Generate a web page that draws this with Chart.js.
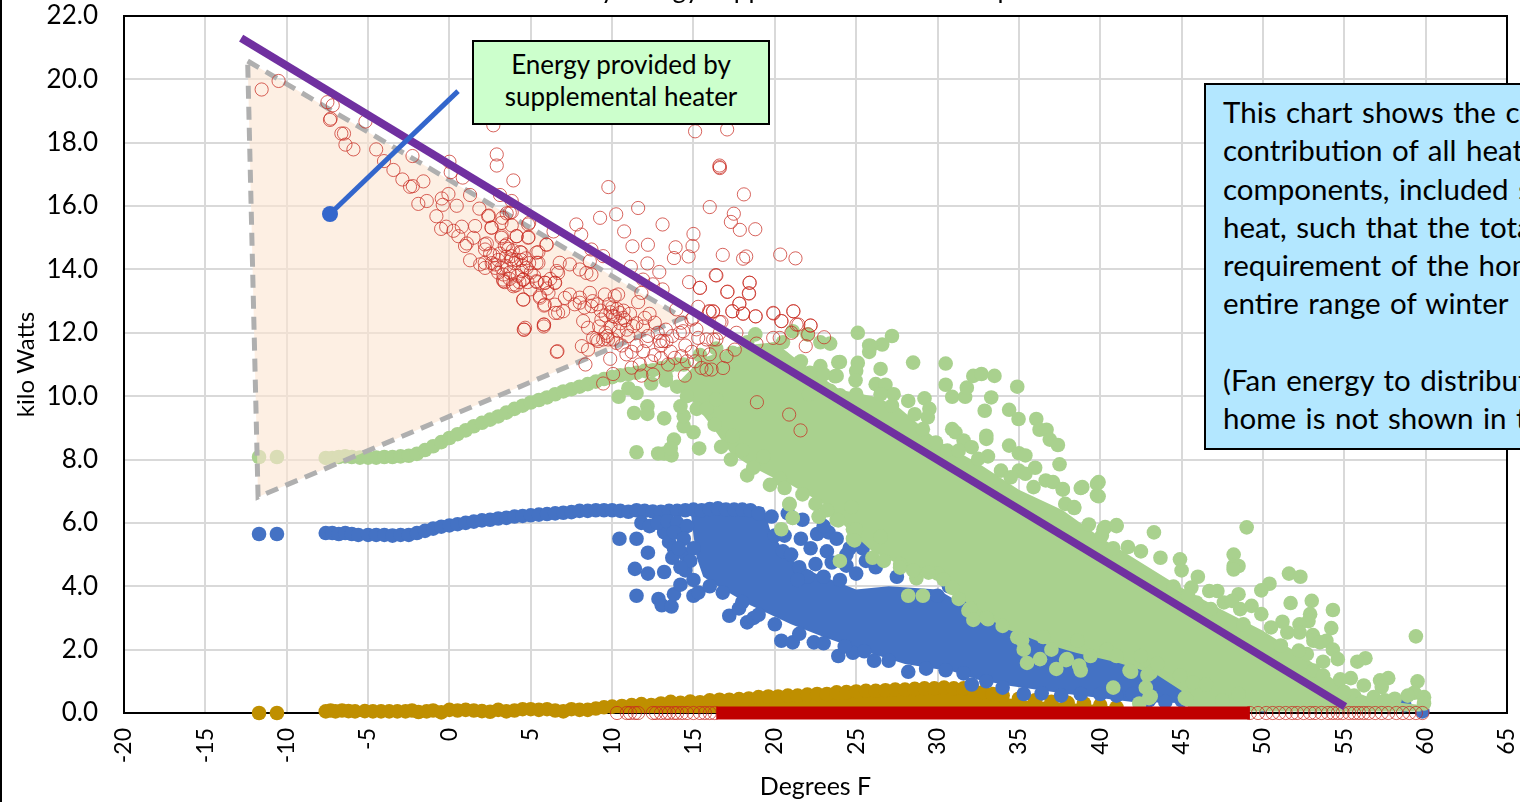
<!DOCTYPE html>
<html lang="en">
<head>
<meta charset="UTF-8">
<title>Hourly Energy Supplied</title>
<script src="https://cdn.jsdelivr.net/npm/chart.js"></script>
<style>
    html, body { margin: 0; padding: 0; background: #fff; overflow: hidden; }
    #wrap { position: relative; width: 1520px; height: 802px; overflow: hidden; font-family: Lato, sans-serif; color: #000; }
    #wrap canvas { position: absolute; left: 0; top: 0; }
    #frame { position: absolute; left: 0; top: 0; width: 2px; height: 802px; background: #000; }
    #title { position: absolute; left: 124px; width: 1383px; top: -27px; line-height: 30px; font-size: 26px; text-align: center; white-space: nowrap; }
    .note { position: absolute; box-sizing: border-box; border: 2px solid #000; }
    #heaterNote { left: 472px; top: 40px; width: 298px; height: 85px; background: #CCFFCC; text-align: center; font-size: 26px; line-height: 32px; padding-top: 6px; }
    #infoNote { left: 1204px; top: 83px; width: 360px; height: 367px; background: #B3E7FF; font-size: 29.5px; word-spacing: 2px; line-height: 38.3px; padding: 8px 0 0 17px; white-space: nowrap; }
</style>
</head>
<body>
<div id="wrap">
    <canvas id="chart" width="1520" height="802"></canvas>
    <div id="frame"></div>
    <div id="title">Hourly Energy Supplied vs. Outdoor Temperature</div>
    <div id="heaterNote" class="note">Energy provided by<br>supplemental heater</div>
    <div id="infoNote" class="note">This chart shows the combined<br>contribution of all heat<br>components, included supplemental<br>heat, such that the total<br>requirement of the home<br>entire range of winter<br><br>(Fan energy to distribute<br>home is not shown in this</div>
</div>
<script>
// values, [deg F, kW]
const xTickStep = 5;
const yTickStep = 2;

const totalLine = [[-12.8,21.3],[55.05,0.2]];
const calloutLine = [[-7.34,15.75],[0.53,19.63]];
const supplementalWedge = [[-12.4,20.58],[14.36,12.47],[-11.76,6.82],[-12.4,20.58]];

const goldCore = [[10,0],[10,0.2],[15,0.3],[20,0.45],[25,0.6],[30,0.72],[31.5,0.75],[35,0.4],[40,0.25],[41.5,0.15],[41.5,0]];
const goldPoints = [[-11.7,0],[-10.6,0],[-7.6,0.05],[-7.3,0.08],[-7,0.05],[-6.6,0.08],[-6.2,0.06],[-5.8,0.05],[-5.2,0.06],[-4.7,0.05],[-4.2,0.05],[-3.7,0.05],[-3.2,0.05],[-2.7,0.05],[-2.3,0.08],[-1.9,0.03],[-1.4,0.05],[-1,0.08],[-0.5,0.02],[0,0.1],[0.5,0.08],[1,0.1],[1.5,0.08],[2,0.06],[2.5,0.04],[3,0.1],[3.5,0.05],[4,0.08],[4.5,0.12],[5,0.12],[5.5,0.1],[6,0.12],[6.5,0.08],[7,0.05],[7.5,0.12],[8,0.1],[8.5,0.1],[9,0.14],[9.5,0.18],[10,0.2],[10.6,0.22],[11.2,0.25],[11.8,0.28],[12.4,0.25],[13,0.3],[13.6,0.35],[14.2,0.32],[14.8,0.36],[15.4,0.34],[16,0.4],[16.6,0.42],[17.2,0.42],[17.8,0.44],[18.4,0.46],[19,0.5],[19.6,0.52],[20.2,0.52],[20.8,0.55],[21.4,0.55],[22,0.58],[22.6,0.6],[23.2,0.6],[23.8,0.65],[24.4,0.66],[25,0.68],[25.6,0.7],[26.2,0.7],[26.8,0.72],[27.4,0.74],[28,0.74],[28.6,0.76],[29.2,0.78],[29.8,0.78],[30.4,0.8],[31,0.78],[31.6,0.78],[32.2,0.72],[32.8,0.66],[33.4,0.6],[34,0.55],[35,0.45],[36,0.4],[37,0.35],[38,0.32],[39,0.3],[40,0.25],[41,0.18]];

const blueCore = [[14.8,6.5],[19.3,6.5],[19.7,5.8],[20.8,4.9],[22.5,4.4],[25,3.9],[27,4],[30,3.9],[33,3],[36,2.5],[40,2],[45,1.2],[46.5,0.3],[42,0.35],[38,0.6],[34.5,0.85],[32.5,1.05],[31,1.3],[28,1.55],[25.5,1.95],[23,2.4],[21,2.8],[18.5,3.4],[16.5,4],[15.6,4.3],[15.2,4.9],[15,5.6]];
const bluePoints = [[-11.7,5.65],[-10.6,5.65],[-7.6,5.68],[-7.2,5.68],[-6.8,5.65],[-6.4,5.68],[-6,5.65],[-5.6,5.62],[-5,5.62],[-4.5,5.62],[-4,5.62],[-3.5,5.6],[-3,5.62],[-2.5,5.62],[-2,5.68],[-1.5,5.75],[-1,5.82],[-0.5,5.88],[0,5.92],[0.5,5.96],[1,6],[1.5,6.04],[2,6.08],[2.5,6.1],[3,6.14],[3.5,6.16],[4,6.2],[4.5,6.22],[5,6.24],[5.5,6.26],[6,6.28],[6.5,6.3],[7,6.32],[7.5,6.34],[8,6.38],[8.5,6.38],[9,6.4],[9.5,6.4],[10,6.4],[10.5,6.38],[11,6.35],[11.5,6.4],[12,6.38],[12.5,6.36],[13,6.35],[13.5,6.38],[14,6.38],[14.5,6.4],[15,6.42],[15.5,6.4],[16,6.44],[16.5,6.46],[17,6.42],[17.5,6.42],[18,6.42],[18.5,6.4],[19,6.3],
[10.45,5.5],[11.5,5.5],[12.2,5.06],[11.4,4.55],[12.2,4.4],[13.2,4.45],[11.5,3.7],[12.85,3.6],[13.05,3.4],[13.65,3.36],[13.8,3.75],[15,3.7],[15.3,3.8],[14.2,4.05],[17.2,3.07],[18.3,2.86],[18.7,3],[17.8,3.3],[20.4,2.28],[21.1,2.23],[22.4,2.23],[23.9,1.8],[24.8,1.9],[26.1,1.65],[28.2,1.3],[30.5,1.35],[32.1,0.9],
[11.8,6],[12.3,5.9],[13.2,5.7],[13.5,5.4],[13.8,5.2],[14.2,5.7],[14.5,5],[14.5,4.5],[15,4.2],[16,4],[16.8,3.8],[18,3.5],[19,3.1],[20,2.8],[21.5,2.5],[23,2.2],[24.3,2.1],[25.5,1.95],[27,1.65],[29.3,1.4],[31.6,1.25],[33,1],[34,0.8],[35.3,0.6],[36.4,0.62],[37.6,0.55],[38.8,0.6],[40,0.6],[41,0.55],[42,0.6],[43,0.4],[44,0.35],[45,0.4],[46.5,0.3],[48,0.3],[50,0.25],[58.7,0.25],[59.8,0.05],
[12.8,6],[13.4,6.05],[14,6],[14.6,5.9],[13.8,5.7],[14.4,5.5],[15,5.2],[14.8,4.8],[14.2,4.6],[13.7,4.9],[14.1,5.2],
[19.8,6.2],[20,5.6],[20.5,5.1],[21.5,4.6],[20.8,6.3],[21.7,6.1],[22.6,5.65],[23.3,5.7],[23.8,5.5],[21.6,5.5],[22.2,5.2],[23.2,5.1],[23.5,4.75],[22.5,4.7],[24.4,5],[24.4,4.65],[25.6,4.8],[25.9,5.5],[26.2,4.6],[27.5,4.3],[28.4,3.5],[30,3.7],[30.7,4],[31.8,3.6],[20.6,5.6],[21,5],[22,4.3],[23,4.3],[24,4.2],[25,4.4],[21.4,4.2],[23,5.9],[24.6,5.2],[25.4,5.2]];

const greenCore = [[15.5,11.2],[18,11.6],[20,11.7],[22,10.9],[24,10.2],[26,10],[27.5,9.7],[30,8.6],[32.6,7.85],[35,7.05],[37.7,6.4],[40,5.55],[42.5,4.75],[45,3.95],[47.5,3.25],[50,2.6],[53,1.6],[55,0.8],[57,0.4],[59.7,0.25],[59.7,0.05],[45.5,0.05],[45,0.7],[43.5,1.2],[41,1.6],[38.5,1.9],[36.5,2.2],[34,2.7],[32,3.4],[30,4.2],[28,4.6],[26,5.1],[24.5,5.8],[23,6.6],[21,7.2],[20,7.4],[18.5,7.8],[17.3,8.2],[16.2,9],[15,9.8],[14,10.4]];
const greenPoints = [[-11.7,8.08],[-10.6,8.08],[-7.6,8.05],[-7.2,8.05],[-6.8,8.08],[-6.4,8.1],[-6,8.08],[-5.5,8.06],[-5,8.06],[-4.5,8.06],[-4,8.08],[-3.5,8.08],[-3,8.1],[-2.5,8.12],[-2,8.18],[-1.5,8.3],[-1,8.42],[-0.5,8.55],[0,8.68],[0.5,8.8],[1,8.92],[1.5,9.05],[2,9.16],[2.5,9.26],[3,9.36],[3.5,9.48],[4,9.6],[4.5,9.7],[5,9.8],[5.5,9.88],[6,9.96],[6.5,10.06],[7,10.15],[7.5,10.22],[8,10.3],[8.5,10.38],[9,10.46],[9.5,10.54],[10,10.6],[10.5,10.66],[11,10.7],[11.5,10.74],[12,10.8],[12.5,10.82],[13,10.88],[13.5,10.95],[14,11],
[10.4,9.98],[11.35,9.47],[12.17,9.68],[12.17,9.44],[13.2,9.3],[11.5,8.23],[12.83,8.19],[13.2,8.19],[13.65,8.13],[13.8,8.63],[13.6,8.35],[15.35,8.35],[16.7,8.4],[17.3,8],[18.3,7.5],[18.67,7.74],[15,8.86],[14.4,9.05],[14.4,9.37],[14.2,9.68],[11.5,10.1],[11,10.25],[12.4,10.4],[16.3,9.1],[17.4,8.74],[18,8.3],[19.3,8.1],[20.3,7.4],[20.6,7.1],[20.9,6.58],[21.1,6.16],[20.4,5.8],[22.7,6.2],[23.8,6.1],[24.8,5.8],[13.3,10.5],[14,10.3],[14.6,10],[15.2,9.6],[15.8,9.6],[16.4,9.9],[19.7,7.2],[21.7,6.9],[22.5,6.6],[23.2,6.4],
[18.8,11.95],[21.1,12.05],[22,11.95],[19.9,11.47],[22.8,11.7],[23.4,11.66],[25.1,12],[25.8,11.6],[26.6,11.63],[27.2,11.9],[23.9,11.07],[22.8,10.95],[23.7,10.63],[25.1,11.05],[26.5,10.86],[21.5,11.05],[22.15,10.74],[20.5,11.7],[18.3,11.7],[17.4,11.37],[16.4,11.5],[15.4,11.3],[14.4,11],[13.3,10.63],[20.5,11.2],[19,11.4],
[25.9,11.58],[25.8,11.4],[28.5,11.06],[30.5,11.03],[30.5,10.36],[30.9,9.98],[31.7,9.98],[31.8,10.27],[32.2,10.64],[32.7,10.7],[33.5,10.64],[34.9,10.3],[33.3,9.96],[32.9,9.54],[34.4,9.57],[34.98,9.28],[36.07,9.28],[36.27,8.94],[36.7,8.94],[36.9,8.63],[37.4,8.46],[37.5,7.85],[34.4,8.44],[35,8.2],[35.4,8.13],[33,8.75],[33,8.65],[30.9,8.96],[31.1,8.86],[31.6,8.6],[32.1,8.39],[33.1,8.1],[36,7.74],[35,7.65],[35.4,7.55],[36.65,7.34],[37.1,7.29],[37.7,7.07],[38.9,7.13],[39.9,7.29],[39.8,6.87],[35.9,7.13],[38.4,6.5],[37.85,6.6],[39.3,5.95],[40.3,5.87],[41,5.93],[40.1,5.6],
[24,11.08],[23,10.69],[23.8,10.64],[25,10.8],[24.96,10.5],[26.2,10.38],[26.8,10.36],[25,10.06],[24,10.03],[23.4,10.17],[22.1,10.06],[21.6,11.1],[28.2,9.85],[29.2,9.93],[29.5,9.6],[29.4,9.33],[27.3,10.06],[26.5,10.06],[28.6,9.43],[27.2,9.7],[29.1,8.96],[29.9,8.54],[30.6,8.28],[31.3,8.28],[32.5,8.02],[33.9,7.65],[34.5,7.44],
[24.7,6.5],[23.9,6.08],[24.8,5.5],[26.5,5.56],[28.7,4.25],[28.2,3.7],[29.1,3.7],[31.3,3.6],[32.4,3.06],[34,2.75],[24,4.8],[26,4.9],[25,5.8],[24.9,5.45],[20.9,6.6],[21.1,6.16],[22.7,6.2],[27.7,4.7],[30,4.4],[26.7,4.8],[27.7,4.59],[29.45,4.43],[30.37,4.22],[31.9,3.23],[33.1,2.96],[34.9,2.39],[28.5,4.5],[30.9,3.95],[32,3.3],
[37.7,7.05],[38.8,7.1],[39.8,7.23],[39.9,6.84],[38.4,6.47],[41,5.9],[40.2,5.8],[43.3,5.7],[49,5.86],[40.8,5.2],[41.7,5.24],[42.5,5.1],[43.7,4.9],[44.9,4.85],[45,4.5],[46,4.3],[48.2,5],[48.2,4.64],[48.5,4.64],[48.2,4.53],[51.6,4.4],[52.3,4.3],[50.4,4.08],[49.9,3.87],[46.7,3.85],[47.2,3.85],[48.5,3.75],[45.6,3.96],[44.5,3.99],[45.9,3.49],[45.4,3.7],[51.7,3.47],[53,3.54],[54.3,3.25],[52.9,3.12],[52.8,2.9],[54.2,2.68],[52.25,2.8],[52.25,2.54],[59.4,2.42],[47.6,3.49],[48.1,3.54],[48.6,3.28],[49.3,3.38],[49.9,3.12],[46.8,3.28],[51.2,2.88],[50.5,2.7],[48.8,2.8],[51.5,2.54],[53.07,2.46],[53.1,2.28],[53.9,2.28],[53.5,2.23],[54.3,2],[54.6,1.7],[56.3,1.73],[55.8,1.62],[53.7,1.62],[52.7,1.86],[52.2,1.97],[51.1,2.13],[53.1,1.34],[53.7,1.18],[54.75,1.06],[55.4,1.1],[56.2,0.87],[57.2,1.03],[57.7,1.1],[57.3,0.82],[59.5,1],[59.3,0.64],[59.9,0.5],[58.9,0.55],[58.1,0.45],[56.8,0.5],[55.6,0.55],[59.9,0.3],[55,0.66],[57.5,0.4],[56,0.3],
[37.95,1.7],[38.8,1.34],[38.7,1.5],[39.4,1.8],[40.8,0.8],[41.8,1.34],[42.8,0.8],[43.1,0.52],[42.4,0.3],[43.1,1.27],[44.9,1.18],[38.6,2.28],[40.4,2],[42.5,1.8],[45.2,0.48],[45.7,0.97],[35.3,2],[35.5,1.58],[36.3,1.7],[37.3,1.39],[37.9,1.67],[37,2],[35.2,2.3],[32.2,2.94],[41.9,1.3],[42.9,1.2],[43,0.47],[45.3,0.44],[46.5,0.9],[47.5,0.4],[48.5,0.6],[36.5,2.4],[33,3],[41,1.8],[43.5,1.55]];

const redPoints = [[-11.54,19.68],[-10.5,19.95],[-7.5,19.28],[-7.17,19.18],[-7.34,18.72],[-7.3,18.76],[-6.64,18.29],[-6.48,18.29],[-6.39,17.94],[-5.9,17.79],[-5.16,18.67],[-4.5,17.79],[-4.02,17.42],[-3.44,17.14],[-2.89,16.84],[-2.42,16.61],[-2.25,16.63],[-1.6,16.78],[-2.27,17.58],[0,17.4],[0.08,17.07],[0.82,16.9],[1.27,16.35],
[-0.47,16.24],[-0.06,16.38],[-0.41,16.04],[0.45,16.01],[-1.39,16.16],[-1.91,16.07],[-0.8,15.68],[-0.51,15.28],[-0.2,15.35],[0.25,15.22],[0.76,15.35],[1.58,15.37],[0.55,15.05],[1.48,15],[1.07,14.82],[0.96,14.74],[1.84,15.92],[2.42,15.7],[3.26,15.63],[2.6,15.32],[3.22,15.05],[3.52,15.77],[3.83,15.81],[4.14,15.05],[4.86,15.02],[4.9,15.47],[3.83,15.39],[5.98,14.78],[6.4,15.2],[2.91,17.63],[2.91,17.28],[3.93,16.81],[2.7,18.55],[3.11,16.35],[3.83,16.16],[2.3,14.82],[2.19,14.63],[1.27,14.29],[1.89,14.16],[2.19,14.05],[2.7,14.44],[2.81,14.05],[3.52,14.79],[3.63,14.65],[4.34,14.55],[3.83,14.32],[4.75,14.05],[5.47,14.55],[5.47,14.21],[3.32,13.63],[3.93,13.47],[4.55,13.68],[5.37,13.6],[5.88,13.58],[6.5,13.58],[5.57,13.11],[4.55,13.05],[5.82,12.86],[6.6,13.95],[6.5,12.63],[4.65,12.16],[5.82,12.26],[4.96,13.37],[6.09,13.26],[3.32,13.84],[4.45,13.95],
[15.1,18.36],[17.07,18.42],[16.6,17.28],[16.6,17.23],[16.62,17.2],[9.77,16.6],[18.1,16.37],[16,15.97],[11.6,15.94],[10.25,15.74],[9.26,15.63],[7.8,15.42],[8.1,15.1],[10.74,15.2],[13.1,15.42],[17.48,15.76],[17.3,15.5],[17.85,15.25],[18.8,15.27],[15,15.12],[14.94,14.74],[14.7,14.41],[13.9,14.7],[13.8,14.36],[12.2,14.78],[11.25,14.73],[12.17,14.19],[11.15,14.08],[12.9,13.92],[16.8,14.46],[18.05,14.34],[18.24,14.41],[20.33,14.47],[21.27,14.35],[16.37,13.82],[14.73,13.6],[15.4,13.42],[17.1,13.3],[18.44,13.58],[18.4,13.25],[17.83,12.92],[17.38,12.68],[18.05,12.6],[18.83,12.52],[19.92,12.61],[21.15,12.68],[20.4,12.37],[15.29,12.82],[16,12.67],[16.2,12.67],[21.45,12.26],[22.2,12.23],[16.6,12.34],[8.73,14.63],[9.45,14.42],[8.63,14.26],[11.9,13.68],[12.5,13.53],[13.1,13.37],[11.8,13.26],[11.6,12.97],[13.95,12.74],[14.88,12.42],[4.6,12.1],[5.8,12.2],[6.6,11.4],
[2.38,15.68],[3.2,15.47],[2.58,15.32],[3.71,15.79],[4.84,15.42],[5.96,14.79],[4.12,15.05],[4.84,15],[3.2,15],[2.17,14.79],[3.4,14.74],[4.43,14.53],[5.35,14.53],[5.35,14.21],[3.81,14.42],[2.17,14.21],[2.79,14.16],[3.5,14.11],[4.53,14.11],[3.3,13.68],[3.91,13.53],[4.53,13.68],[5.35,13.63],[5.86,13.58],[6.48,13.58],[6.68,13.89],[6.78,14.21],[7.4,14.16],[8.01,14],[8.42,13.89],[8.73,13.84],[4.53,13.05],[5.55,13.16],[5.86,12.89],[6.48,12.89],[6.99,12.68],[7.4,13.21],[8.01,13.11],[8.63,13.26],[8.73,12.84],[9.55,13.21],[10.16,13.16],[10.37,13.21],[8.22,12.37],[8.52,12.16],[9.34,12.42],[10.06,12.53],[10.68,12.47],[11.29,12.21],[12.01,12.47],[12.62,12.32],[9.45,11.79],[10.06,11.79],[9.04,11.79],[13.14,11.74],[14.16,12],[15.18,12.11],[16.21,11.79],[6.68,12.63],[8.01,12.95],[10.47,12.63],
[4.57,12.1],[5.8,12.26],[6.64,11.42],[9.45,10.4],[9.88,11.18],[8.36,11],[8.14,11.58],[14.47,10.65],[18.9,9.81],[20.88,9.42],[21.58,8.92],[11.8,10.65],[12.52,10.68],[10.06,10.7],[11.2,10.9],[11.7,11],[13.44,11],[13.85,11.21],[14.26,11.26],[15.49,10.89],[15.8,10.84],[16.11,10.84],[16.82,10.89],[17.03,11.26],[17.54,11.47],[16,11.32],[15.59,11.47],[13.34,11.74],[12.93,11.74],[12.11,11.74],[10.88,11.32],[11.91,11.42],[9.75,11.79],[9.14,11.74],[8.83,11.84],[8.52,11.47],[10.27,11.68],[19.9,11.84],[20.3,11.84],[21.02,12],[22.05,11.95],[23.03,11.86],[21.9,11.58],[18.87,11.66],[16.41,11.79],[15.8,11.79],[15.29,11.84],[16.62,12],[20.41,12.37],[21.33,12.26],[21.13,12.68],[22.19,12.23],[19.9,12.63],[18.46,13.58],[18.42,13.24],[17.07,13.29],[15.39,13.42],[16.41,13.81],[18.05,12.61],[17.4,12.68],[17.81,12.92],[18.81,12.52],[15.96,12.68],[16.21,12.68],[16.72,12.34],[17.64,12],[14.98,12.47],[14.36,12.05],[14.26,12.32],
[2.6,14.2],[3,14.3],[3.2,14.05],[3.7,13.9],[4,14.2],[4.2,13.8],[4.8,13.6],[5,13.9],[5.2,13.8],[9.8,12.9],[10,12.8],[10.2,12.5],[10.5,12.3],[10.9,12.1],[11.1,12.6],[11,11.9],[11.5,11.6],[9.9,12.2],[9.6,12],[12.2,11.9],[12.6,11.3],[13,11.2],[13.6,11.4],[14.6,11.1],
[3.1,14.5],[3.5,14.4],[3.9,14.6],[4.1,14.3],[4.4,14.3],[4.7,14.35],[4.9,14.2],[2.5,14.5],[3,13.9],[3.4,13.6],[3.7,13.7],[4.1,13.5],[4.3,13.6],[6.2,13.7],[6,13.4],[7.1,13.1],[7.7,12.9],[8.3,12.8],[8.8,13],[9.1,12.9],[9.3,12.7],[9.6,12.55],[9.9,12.65],[10.3,12.75],[10.7,12.7],[9.2,12.2],[9.7,11.9],[10.4,12.05],[10.8,12.4],[11.5,12.3],[11.9,12.2],[12.3,12.6],[12.8,12],[13.3,12.1],[13.7,11.9],[10.6,11.6],[11.2,11.4],[12.4,11.1],[13,11.6],[14.5,11.6],[14.9,11.4],[15.1,11.1]];
const redFloorStart = [10.3,10.9,11.1,11.4,11.6,12.5,12.7,13,13.3,13.5,13.8,14,14.3,14.6,15,15.4,15.7,16,16.3];
const redFloorEnd = [49.2,49.7,50.2,50.6,51,51.4,51.8,52.1,52.5,52.9,53.2,53.6,54,54.3,54.6,54.9,55.3,55.6,55.9,56.2,56.5,56.9,57.3,57.7,58.2,58.6,59,59.4,59.8];
const redFloorBand = [[16.4,0],[49.2,0]];

function pts(list) {
    return list.map(p => ({ x: p[0], y: p[1] }));
}

function cloud(list, color, order) {
    return { data: pts(list), backgroundColor: color, borderWidth: 0, pointRadius: 7.3, clip: false, order: order };
}

function core(list, color, order) {
    return { data: pts(list), showLine: true, fill: 'shape', backgroundColor: color, borderColor: color, borderWidth: 0, pointRadius: 0, clip: false, order: order };
}

function rings(list, order) {
    return { data: pts(list), backgroundColor: 'transparent', borderColor: 'rgba(200,40,30,0.72)', borderWidth: 1, pointRadius: 6.6, clip: false, order: order };
}

// no room reserved for the first and last tick labels, the plot keeps its own box
function noLabelMargins(s) {
    s.paddingTop = 0;
    s.paddingBottom = 0;
    s.paddingLeft = 0;
    s.paddingRight = 0;
}

const plotFrame = {
    id: 'plotFrame',
    beforeDatasetsDraw(chart) {
        const a = chart.chartArea;
        const c = chart.ctx;
        c.save();
        c.strokeStyle = '#000';
        c.lineWidth = 2;
        c.strokeRect(a.left, a.top, a.right - a.left, a.bottom - a.top);
        c.restore();
    }
};

new Chart(document.getElementById('chart'), {
    type: 'scatter',
    data: {
        datasets: [
            core(goldCore, '#BF8F00', 90),
            cloud(goldPoints, '#BF8F00', 89),
            core(blueCore, '#4472C4', 80),
            cloud(bluePoints, '#4472C4', 79),
            core(greenCore, '#A9D18E', 70),
            cloud(greenPoints, '#A9D18E', 69),
            {
                data: pts(supplementalWedge), showLine: true, fill: 'shape',
                backgroundColor: 'rgba(251,229,208,0.6)', borderColor: '#AFAFAF',
                borderWidth: 5, borderDash: [13, 8], pointRadius: 0, order: 60
            },
            rings(redPoints, 50),
            rings(redFloorStart.map(t => [t, 0]), 49),
            rings(redFloorEnd.map(t => [t, 0]), 49),
            { data: pts(redFloorBand), showLine: true, borderColor: '#C00000', borderWidth: 13, pointRadius: 0, clip: false, order: 48 },
            { data: pts(totalLine), showLine: true, borderColor: '#7030A0', borderWidth: 8, pointRadius: 0, order: 20 },
            {
                data: pts(calloutLine), showLine: true, borderColor: '#3366CC', borderWidth: 5,
                pointRadius: [8, 0], pointBackgroundColor: '#3366CC', pointBorderWidth: 0, order: 10
            }
        ]
    },
    options: {
        responsive: false,
        animation: false,
        layout: { padding: { top: 16, right: 13, left: 0, bottom: 0 } },
        plugins: { legend: { display: false }, tooltip: { enabled: false } },
        scales: {
            x: {
                min: -20, max: 65,
                afterFit(s) { s.height = 89; noLabelMargins(s); },
                grid: { color: '#D9D9D9', lineWidth: 2, drawTicks: false },
                border: { color: '#000', width: 2 },
                ticks: { stepSize: xTickStep, minRotation: 90, maxRotation: 90, padding: 15, color: '#000', font: { family: 'Lato', size: 23 } },
                title: { display: true, text: 'Degrees F', color: '#000', font: { family: 'Lato', size: 25 }, padding: { top: 0, bottom: 0 } }
            },
            y: {
                min: 0, max: 22,
                afterFit(s) { s.width = 124; noLabelMargins(s); },
                grid: { color: '#D9D9D9', lineWidth: 2, drawTicks: false },
                border: { color: '#000', width: 2 },
                ticks: { stepSize: yTickStep, padding: 26, color: '#000', font: { family: 'Lato', size: 26 }, callback: v => v.toFixed(1) },
                title: { display: true, text: 'kilo Watts', color: '#000', font: { family: 'Lato', size: 24 }, padding: { top: 12, bottom: 0 } }
            }
        }
    },
    plugins: [plotFrame]
});
</script>
</body>
</html>
